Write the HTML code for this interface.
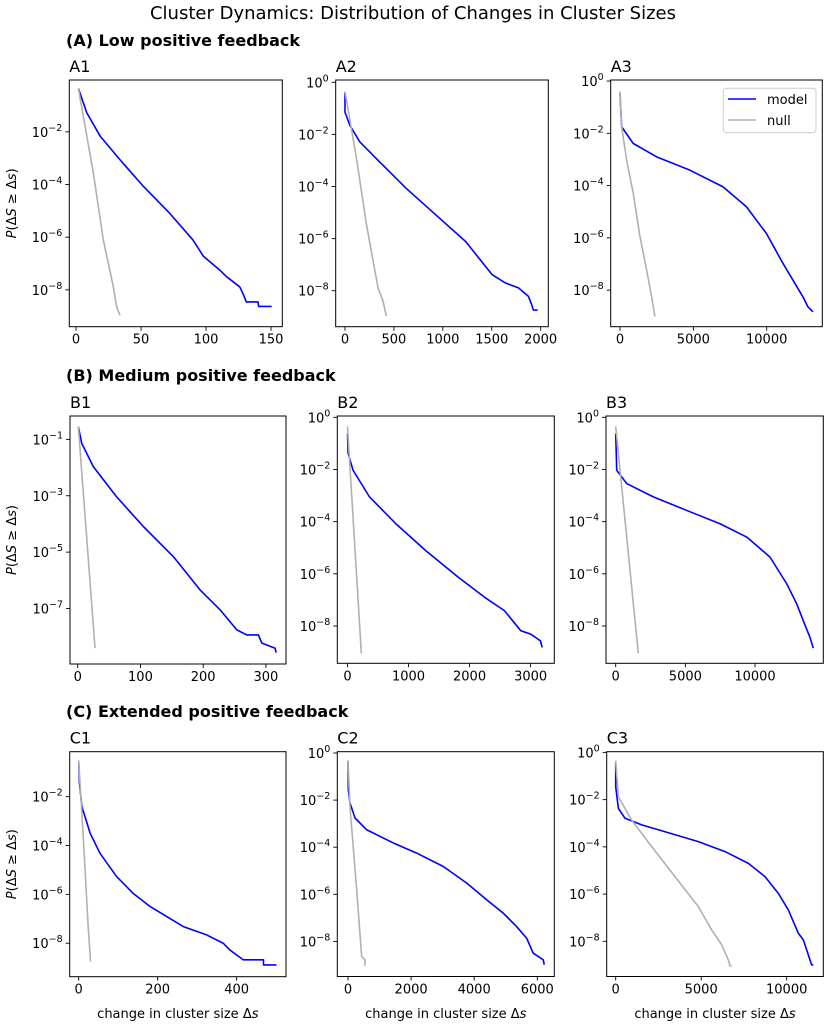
<!DOCTYPE html>
<html><head><meta charset="utf-8"><style>
body{margin:0;background:#fff;}
svg{display:block;font-family:"DejaVu Sans","Liberation Sans",sans-serif;}
</style></head><body>
<svg id="fig" width="827" height="1027" viewBox="0 0 827 1027" xmlns="http://www.w3.org/2000/svg">
<text x="413" y="19" font-size="18" text-anchor="middle">Cluster Dynamics: Distribution of Changes in Cluster Sizes</text>
<text x="66" y="46" font-size="16" font-weight="bold">(A) Low positive feedback</text>
<text x="66" y="381" font-size="16" font-weight="bold">(B) Medium positive feedback</text>
<text x="66" y="717" font-size="16" font-weight="bold">(C) Extended positive feedback</text>
</svg>
<script>
// ---- data: x = change in cluster size, y = log10 P(ΔS ≥ Δs) ----
const a1ModelX=[1.8,8.2,18.5,33.8,51.8,72,90,97.9,110.8,116,126,128.5,131,140,140.5,150.5];
const a1ModelY=[-0.35,-1.27,-2.16,-3.06,-4.07,-5.09,-6.11,-6.72,-7.26,-7.51,-7.89,-8.15,-8.46,-8.46,-8.63,-8.63];
const a1NullX=[1.8,13.3,21,28.7,31.3,33.8];
const a1NullY=[-0.35,-3.56,-6.11,-7.89,-8.65,-8.97];
const a2ModelX=[0,0,51,152,355,625,929,1233,1503,1638,1773,1874,1908,1925,1969];
const a2ModelY=[-0.4,-1.15,-1.66,-2.29,-3.06,-4.07,-5.09,-6.11,-7.38,-7.70,-7.89,-8.21,-8.53,-8.74,-8.74];
const a2NullX=[0,118,220,338,389,422];
const a2NullY=[-0.35,-2.93,-5.47,-7.89,-8.4,-8.97];
const a3ModelX=[0,113,905,2494,4762,7027,8617,9977,11111,11791,12472,12812,13152];
const a3ModelY=[-0.47,-1.75,-2.39,-2.9,-3.41,-4.05,-4.81,-5.83,-6.98,-7.62,-8.26,-8.64,-8.83];
const a3NullX=[0,113,454,905,1361,1814,2155,2381];
const a3NullY=[-0.4,-1.75,-3.03,-4.3,-5.95,-7.23,-8.26,-9.01];
const b1ModelX=[1,6.4,25,62,105,152.5,195,227,253.6,269.5,288,293.5,314.7,316.3];
const b1ModelY=[-0.55,-1.14,-1.97,-3.04,-4.10,-5.16,-6.34,-7.05,-7.76,-7.94,-7.94,-8.23,-8.41,-8.57];
const b1NullX=[1,27.6];
const b1NullY=[-0.55,-8.41];
const b2ModelX=[0,10,91,360,792,1277,1815,2247,2570,2838,3000,3162,3189];
const b2ModelY=[-0.62,-1.38,-2.03,-3.05,-4.08,-5.1,-6.13,-6.9,-7.41,-8.18,-8.31,-8.57,-8.82];
const b2NullX=[0,227];
const b2NullY=[-0.35,-9.05];
const b3ModelX=[0,72,790,2700,5097,7487,9404,11077,12276,12994,13467,13948,14185];
const b3ModelY=[-0.62,-2.03,-2.54,-3.05,-3.57,-4.08,-4.59,-5.36,-6.38,-7.15,-7.8,-8.44,-8.85];
const b3NullX=[0,1622];
const b3NullY=[-0.35,-9.05];
const c1ModelX=[0,2,8,29,54,96,138,181,223,265,324,366,383,400,417,468,468,501];
const c1ModelY=[-0.53,-1.45,-2.41,-3.5,-4.32,-5.27,-5.96,-6.5,-6.91,-7.32,-7.66,-8.0,-8.28,-8.48,-8.68,-8.68,-8.89,-8.89];
const c1NullX=[0,12,24,30];
const c1NullY=[-0.53,-3.77,-7.32,-8.75];
const c2ModelX=[0,10,63,222,591,1436,2175,3020,3760,4393,4921,5343,5660,5871,6188,6220];
const c2ModelY=[-0.35,-1.56,-2.12,-2.76,-3.26,-3.82,-4.25,-4.82,-5.52,-6.23,-6.8,-7.37,-7.86,-8.5,-8.78,-8.99];
const c2NullX=[0,63,275,433,539,539];
const c2NullY=[-0.31,-2.27,-5.81,-8.64,-8.78,-9.04];
const c3ModelX=[0,0,156,546,1520,2885,4833,6393,7757,8731,9510,10095,10680,10972,11167,11362,11460,11557];
const c3ModelY=[-0.39,-1.45,-2.37,-2.79,-3.07,-3.36,-3.78,-4.2,-4.7,-5.26,-5.97,-6.67,-7.66,-7.94,-8.36,-8.79,-9.0,-9.0];
const c3NullX=[0,156,936,2105,3469,4833,5613,6198,6588,6685,6783];
const c3NullY=[-0.35,-1.88,-2.87,-3.99,-5.26,-6.53,-7.52,-8.15,-8.79,-9.04,-9.04];
// tick values
const a1XTicks=[0,50,100,150]; const a1YTicks=[-2,-4,-6,-8];
const a2XTicks=[0,500,1000,1500,2000]; const a2YTicks=[0,-2,-4,-6,-8];
const a3XTicks=[0,5000,10000]; const a3YTicks=[0,-2,-4,-6,-8];
const b1XTicks=[0,100,200,300]; const b1YTicks=[-1,-3,-5,-7];
const b2XTicks=[0,1000,2000,3000]; const b2YTicks=[0,-2,-4,-6,-8];
const b3XTicks=[0,5000,10000]; const b3YTicks=[0,-2,-4,-6,-8];
const c1XTicks=[0,200,400]; const c1YTicks=[-2,-4,-6,-8];
const c2XTicks=[0,2000,4000,6000]; const c2YTicks=[0,-2,-4,-6,-8];
const c3XTicks=[0,5000,10000]; const c3YTicks=[0,-2,-4,-6,-8];

const NS='http://www.w3.org/2000/svg';
const svg=document.getElementById('fig');
function mk(tag,attrs,parent){const e=document.createElementNS(NS,tag);for(const k in attrs)e.setAttribute(k,attrs[k]);(parent||svg).appendChild(e);return e;}

const panels=[
 {id:'a1',L:69.3,R:282.3,T:80,B:326.7,xmin:-5.2,xmax:158.7,yhi:-0.03,ylo:-9.4,mx:a1ModelX,my:a1ModelY,nx:a1NullX,ny:a1NullY,xt:a1XTicks,yt:a1YTicks,ylab:true},
 {id:'a2',L:335.7,R:548.3,T:80,B:326.7,xmin:-95,xmax:2078,yhi:0.088,ylo:-9.38,mx:a2ModelX,my:a2ModelY,nx:a2NullX,ny:a2NullY,xt:a2XTicks,yt:a2YTicks},
 {id:'a3',L:610.7,R:822.3,T:80,B:326.7,xmin:-634,xmax:13790,yhi:0.04,ylo:-9.4,mx:a3ModelX,my:a3ModelY,nx:a3NullX,ny:a3NullY,xt:a3XTicks,yt:a3YTicks,legend:true},
 {id:'b1',L:70,R:286,T:416,B:664,xmin:-12.3,xmax:332,yhi:-0.17,ylo:-8.97,mx:b1ModelX,my:b1ModelY,nx:b1NullX,ny:b1NullY,xt:b1XTicks,yt:b1YTicks,ylab:true},
 {id:'b2',L:337.3,R:554.3,T:416,B:663.3,xmin:-167,xmax:3388,yhi:0.05,ylo:-9.43,mx:b2ModelX,my:b2ModelY,nx:b2NullX,ny:b2NullY,xt:b2XTicks,yt:b2YTicks},
 {id:'b3',L:606,R:823.3,T:416,B:663.3,xmin:-696,xmax:14903,yhi:0.05,ylo:-9.43,mx:b3ModelX,my:b3ModelY,nx:b3NullX,ny:b3NullY,xt:b3XTicks,yt:b3YTicks},
 {id:'c1',L:69.7,R:286,T:751.7,B:976.7,xmin:-22.8,xmax:525,yhi:-0.16,ylo:-9.37,mx:c1ModelX,my:c1ModelY,nx:c1NullX,ny:c1NullY,xt:c1XTicks,yt:c1YTicks,ylab:true,xlab:true},
 {id:'c2',L:337.3,R:554.3,T:751.7,B:976.5,xmin:-339,xmax:6539,yhi:0.055,ylo:-9.49,mx:c2ModelX,my:c2ModelY,nx:c2NullX,ny:c2NullY,xt:c2XTicks,yt:c2YTicks,xlab:true},
 {id:'c3',L:606.7,R:823.3,T:751.7,B:976.5,xmin:-526,xmax:12140,yhi:0.03,ylo:-9.49,mx:c3ModelX,my:c3ModelY,nx:c3NullX,ny:c3NullY,xt:c3XTicks,yt:c3YTicks,xlab:true}
];

panels.forEach(p=>{
  const sx=v=>p.L+(v-p.xmin)/(p.xmax-p.xmin)*(p.R-p.L);
  const sy=v=>p.T+(p.yhi-v)/(p.yhi-p.ylo)*(p.B-p.T);
  const g=mk('g',{});
  
  
  const lab=mk('text',{x:p.L,y:p.T-8,'font-size':16},g);
  lab.textContent=p.id.toUpperCase();
  
  
  const clipId='clip-'+p.id;
  const cp=mk('clipPath',{id:clipId},g);
  mk('rect',{x:p.L,y:p.T,width:p.R-p.L,height:p.B-p.T},cp);
  // series
  const line=(xs,ys,color,name)=>{
    const pts=xs.map((x,i)=>sx(x).toFixed(2)+','+sy(ys[i]).toFixed(2)).join(' ');
    const pl=mk('polyline',{points:pts,fill:'none',stroke:color,'stroke-width':1.6,'stroke-linejoin':'round','clip-path':'url(#'+clipId+')'},g);
    
    
  };
  line(p.mx,p.my,'#0000ff','model-line-'+p.id);
  line(p.nx,p.ny,'#b0b0b0','null-line-'+p.id);
  // frame
  const fr=mk('rect',{x:p.L,y:p.T,width:p.R-p.L,height:p.B-p.T,fill:'none',stroke:'#000','stroke-width':1},g);
  
  
  // x ticks
  p.xt.forEach(v=>{
    const x=sx(v);
    mk('line',{x1:x,x2:x,y1:p.B,y2:p.B+4,stroke:'#000','stroke-width':0.9},g);
    const t=mk('text',{x:x,y:p.B+17,'font-size':13,'text-anchor':'middle'},g);
    t.textContent=String(v);
    
    
  });
  // y ticks
  p.yt.forEach(v=>{
    const y=sy(v);
    mk('line',{x1:p.L-4,x2:p.L,y1:y,y2:y,stroke:'#000','stroke-width':0.9},g);
    const t=mk('text',{x:p.L-7,y:y+5,'font-size':13,'text-anchor':'end'},g);
    const b=mk('tspan',{},t); b.textContent='10';
    const s=mk('tspan',{dy:-6,'font-size':9.5},t); s.textContent=(v<0?'\u2212':'')+Math.abs(v);
    
    
  });
  if(p.ylab){
    const cy=(p.T+p.B)/2;
    const t=mk('text',{x:0,y:0,'font-size':13,'text-anchor':'middle',transform:'translate(16,'+cy+') rotate(-90)'},g);
    t.innerHTML='<tspan font-style="italic">P</tspan>(Δ<tspan font-style="italic">S</tspan> ≥ Δ<tspan font-style="italic">s</tspan>)';
    
    
  }
  if(p.xlab){
    const t=mk('text',{x:(p.L+p.R)/2,y:1018,'font-size':13,'text-anchor':'middle'},g);
    t.innerHTML='change in cluster size Δ<tspan font-style="italic">s</tspan>';
    
    
  }
  if(p.legend){
    const lg=mk('g',{},g);
    
    
    mk('rect',{x:723.3,y:88.3,width:92.7,height:44.4,rx:3,fill:'#fff',stroke:'#cccccc','stroke-width':1},lg);
    const e1=mk('line',{x1:728,x2:756,y1:99,y2:99,stroke:'#0000ff','stroke-width':1.6},lg);
    
    
    const t1=mk('text',{x:767,y:104,'font-size':13},lg); t1.textContent='model';
    const e2=mk('line',{x1:728,x2:756,y1:120,y2:120,stroke:'#b0b0b0','stroke-width':1.6},lg);
    
    
    const t2=mk('text',{x:767,y:125,'font-size':13},lg); t2.textContent='null';
  }
});
</script>
</body></html>
